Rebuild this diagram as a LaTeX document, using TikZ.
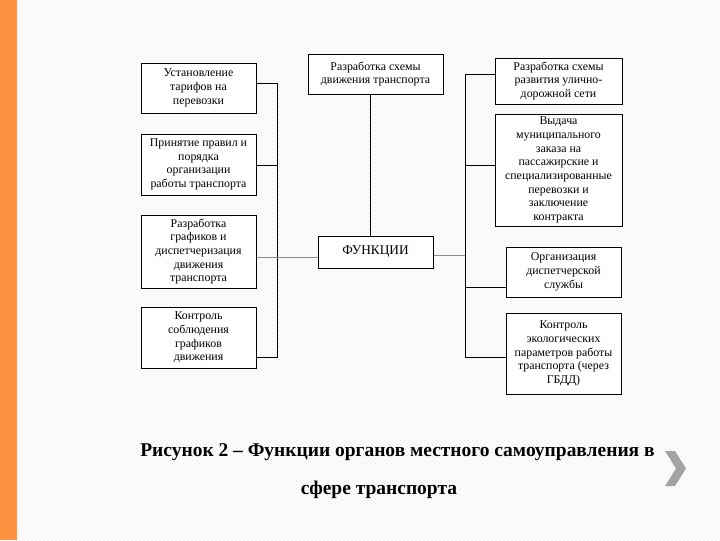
\documentclass[tikz,border=0pt]{standalone}
\usepackage{fontspec}
\setmainfont{Liberation Serif}
\usetikzlibrary{patterns}
\definecolor{stripe}{HTML}{FC9140}
\definecolor{chev}{HTML}{A3A3A3}
\begin{document}
\begin{tikzpicture}[x=0.75pt,y=-0.75pt,
  fbox/.style={draw=black, line width=0.75pt, fill=white, align=center, inner sep=0pt,
    font=\fontsize{8.9}{10.3}\selectfont},
  conn/.style={draw=black, line width=0.75pt},
  gconn/.style={draw=black!45, line width=0.75pt}]
\useasboundingbox (0,0) rectangle (720,540);
\fill[white] (0,0) rectangle (720,540);
\fill[pattern=north west lines, pattern color=black!7] (0,0) rectangle (720,540);
\fill[stripe] (0,0) rectangle (17,540);
% left column
\node[fbox, minimum width=86.25pt, minimum height=37.5pt] (L1) at (198.5,88) {Установление\\тарифов на\\перевозки};
\node[fbox, minimum width=86.25pt, minimum height=45.75pt] (L2) at (198.5,164.5) {Принятие правил и\\порядка\\организации\\работы транспорта};
\node[fbox, minimum width=86.25pt, minimum height=54.75pt] (L3) at (198.5,251.5) {Разработка\\графиков и\\диспетчеризация\\движения\\транспорта};
\node[fbox, minimum width=86.25pt, minimum height=45.75pt] (L4) at (198.5,337.5) {Контроль\\соблюдения\\графиков\\движения};
% centre
\node[fbox, minimum width=101.25pt, minimum height=30pt] (T) at (375.5,74) {Разработка схемы\\движения транспорта};
\node[fbox, minimum width=86.25pt, minimum height=24pt, font=\fontsize{10}{12}\selectfont] (F) at (375.5,252) {ФУНКЦИИ};
% right column
\node[fbox, minimum width=95.25pt, minimum height=34.5pt] (R1) at (558.5,81) {Разработка схемы\\развития улично-\\дорожной сети};
\node[fbox, minimum width=95.25pt, minimum height=84pt] (R2) at (558.5,170) {Выдача\\муниципального\\заказа на\\пассажирские и\\специализированные\\перевозки и\\заключение\\контракта};
\node[fbox, minimum width=86.25pt, minimum height=37.5pt] (R3) at (563.5,272) {Организация\\диспетчерской\\службы};
\node[fbox, minimum width=86.25pt, minimum height=60.75pt] (R4) at (563.5,353.5) {Контроль\\экологических\\параметров работы\\транспорта (через\\ГБДД)};
% spine coordinates
\coordinate (sl) at (277,0);
\coordinate (sr) at (465,0);
\coordinate (vx) at (370,0);
\coordinate (yl1) at (0,83);
\coordinate (yl2) at (0,165);
\coordinate (yc) at (0,257);
\coordinate (yl4) at (0,357);
\coordinate (yr1) at (0,74);
\coordinate (yr2) at (0,165);
\coordinate (yrc) at (0,255);
\coordinate (yr3) at (0,287);
\coordinate (yr4) at (0,357);
% connectors left
\draw[conn] (L1.east |- yl1) -- (sl |- yl1) -- (sl |- yl4) -- (L4.east |- yl4);
\draw[conn] (L2.east |- yl2) -- (sl |- yl2);
\draw[gconn] (L3.east |- yc) -- (F.west |- yc);
% connector top
\draw[conn] (vx |- T.south) -- (vx |- F.north);
% connectors right
\draw[conn] (R1.west |- yr1) -- (sr |- yr1) -- (sr |- yr4) -- (R4.west |- yr4);
\draw[conn] (R2.west |- yr2) -- (sr |- yr2);
\draw[conn] (R3.west |- yr3) -- (sr |- yr3);
\draw[gconn] (F.east |- yrc) -- (sr |- yrc);
% caption
\node[font=\fontsize{14.6}{17}\selectfont\bfseries, inner sep=0pt] (cap1) at (397.5,452) {Рисунок 2 – Функции органов местного самоуправления в};
\node[font=\fontsize{14.6}{17}\selectfont\bfseries, inner sep=0pt] (cap2) at (379,490) {сфере транспорта};
% chevron
\fill[chev] (665,451) -- (675,451) -- (686,468.5) -- (675,486) -- (665,486) -- (676,468.5) -- cycle;
\end{tikzpicture}
\end{document}
